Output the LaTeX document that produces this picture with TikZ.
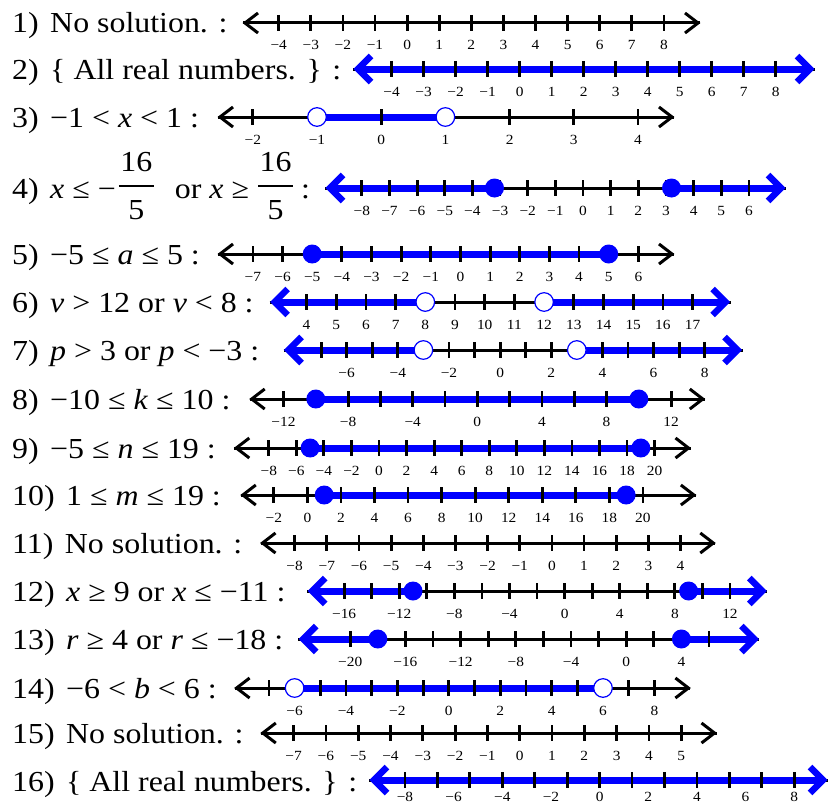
\documentclass[tikz,border=0pt]{standalone}
\usepackage{fontspec}
\setmainfont{Liberation Serif}[FakeStretch=1.1]
\newcommand\lab[1]{\ifnum#1<0 −\the\numexpr0-(#1)\relax\else#1\fi}
\newcommand\laboff{27}
\newcommand\bigfr[2]{\mbox{\rlap{\raisebox{27pt}{\makebox[35pt][c]{#1}}}\rlap{\raisebox{-21pt}{\makebox[35pt][c]{#2}}}\rule[11.2pt]{35pt}{1.7pt}}}
\newcommand\KHeads[3]{%
  \draw[blackhead] (#2+15,#1-10) -- (#2+2,#1) -- (#2+15,#1+10);
  \draw[blackhead] (#3-15,#1-10) -- (#3-2,#1) -- (#3-15,#1+10);}
\newcommand\BHeads[3]{%
  \draw[bluehead] (#2+18,#1-13) -- (#2+5,#1) -- (#2+18,#1+13);
  \draw[bluehead] (#3-18,#1-13) -- (#3-5,#1) -- (#3-18,#1+13);}
% #1 y, #2 x of zero, #3 unit, #4 left tip, #5 right tip, #6 ticks, #7 labels, #8 blue code, #9 heads
\newcommand\NLine[9]{%
  \draw[axisline] (#4,#1) -- (#5,#1);
  #8
  \foreach \v in {#6} \draw[tickmark] ({#2+\v*#3},#1-8) -- ({#2+\v*#3},#1+8);
  \foreach \v [count=\i] in {#7} \node[ticklabel] (t#1n\i) at ({#2+\v*#3},#1+\laboff) {\lab{\v}};
  #9{#1}{#4}{#5}}
\tikzset{
  axisline/.style={line width=3pt, black},
  tickmark/.style={line width=2.8pt, black},
  bluebar/.style={line width=7pt, blue},
  blackhead/.style={line width=3pt, black, line cap=butt, line join=miter},
  bluehead/.style={line width=6.5pt, blue, line cap=butt, line join=miter},
  filleddot/.style={fill=blue, draw=none},
  opendot/.style={fill=white, draw=blue, line width=1.2pt},
  ticklabel/.style={font=\fontsize{14}{14}\selectfont, anchor=base, inner sep=0pt},
  rowlabel/.style={font=\fontsize{29}{29}\selectfont, anchor=base west, inner sep=0pt}
}
\begin{document}
\begin{tikzpicture}[x=1pt,y=-1pt]
\useasboundingbox[fill=white] (0,0) rectangle (829,808);
% row labels
\node[rowlabel] (r1) at (12,33) {1)\hspace{0.12em} No solution. :};
\node[rowlabel] (r2) at (12,79) {2)\hspace{0.12em} \{ All real numbers. \} :};
\node[rowlabel] (r3) at (12,127) {3)\hspace{0.12em} −1 < \textit{x} < 1 :};
\node[rowlabel] (r4) at (12,198) {4)\hspace{0.12em} \textit{x} ≤ −\hspace{3pt}\bigfr{16}{5}\hspace{21pt}or \textit{x} ≥\hspace{9pt}\bigfr{16}{5}\hspace{8pt}:};
\node[rowlabel] (r5) at (12,264) {5)\hspace{0.12em} −5 ≤ \textit{a} ≤ 5 :};
\node[rowlabel] (r6) at (12,312) {6)\hspace{0.12em} \textit{v} > 12 or \textit{v} < 8 :};
\node[rowlabel] (r7) at (12,360) {7)\hspace{0.12em} \textit{p} > 3 or \textit{p} < −3 :};
\node[rowlabel] (r8) at (12,409) {8)\hspace{0.12em} −10 ≤ \textit{k} ≤ 10 :};
\node[rowlabel] (r9) at (12,458) {9)\hspace{0.12em} −5 ≤ \textit{n} ≤ 19 :};
\node[rowlabel] (r10) at (12,505) {10)\hspace{0.12em} 1 ≤ \textit{m} ≤ 19 :};
\node[rowlabel] (r11) at (12,553) {11)\hspace{0.12em} No solution. :};
\node[rowlabel] (r12) at (12,601) {12)\hspace{0.12em} \textit{x} ≥ 9 or \textit{x} ≤ −11 :};
\node[rowlabel] (r13) at (12,649) {13)\hspace{0.12em} \textit{r} ≥ 4 or \textit{r} ≤ −18 :};
\node[rowlabel] (r14) at (12,698) {14)\hspace{0.12em} −6 < \textit{b} < 6 :};
\node[rowlabel] (r15) at (12,743) {15)\hspace{0.12em} No solution. :};
\node[rowlabel] (r16) at (12,791) {16)\hspace{0.12em} \{ All real numbers. \} :};
% 1
\NLine{23}{407.1}{32.1}{243}{700}{-4,...,8}{-4,...,8}{}{\KHeads}
% 2
\NLine{69}{519.6}{32.0}{353}{815}{-4,...,8}{-4,...,8}{\draw[bluebar] (358,69) -- (810,69);}{\BHeads}
% 3
\NLine{117}{381.2}{64.2}{218}{674}{-2,...,4}{-2,...,4}{\draw[bluebar] (317,117) -- (445.4,117);}{\KHeads}
\draw[opendot] (317,117) circle (9.3);
\draw[opendot] (445.4,117) circle (9.3);
% 4
\NLine{188}{583}{27.65}{325}{786}{-8,...,6}{-8,...,6}{\draw[bluebar] (330,188) -- (494.5,188); \draw[bluebar] (671.5,188) -- (781,188);}{\BHeads}
\fill[filleddot] (494.5,188) circle (9.5);
\fill[filleddot] (671.5,188) circle (9.5);
% 5
\NLine{254}{460.45}{29.65}{218}{674}{-7,...,6}{-7,...,6}{\draw[bluebar] (312.2,254) -- (608.7,254);}{\KHeads}
\fill[filleddot] (312.2,254) circle (9.5);
\fill[filleddot] (608.7,254) circle (9.5);
% 6
\NLine{302}{187.7}{29.7}{269.6}{730.6}{4,...,17}{4,...,17}{\draw[bluebar] (274.6,302) -- (425.3,302); \draw[bluebar] (544.1,302) -- (725.6,302);}{\BHeads}
\draw[opendot] (425.3,302) circle (9.3);
\draw[opendot] (544.1,302) circle (9.3);
% 7
\NLine{350}{500.1}{25.57}{283.5}{742.5}{-7,...,8}{-6,-4,...,8}{\draw[bluebar] (288.5,350) -- (423.4,350); \draw[bluebar] (576.8,350) -- (737.5,350);}{\BHeads}
\draw[opendot] (423.4,350) circle (9.3);
\draw[opendot] (576.8,350) circle (9.3);
% 8
\NLine{399}{477.3}{16.15}{249.7}{704.8}{-12,-10,...,12}{-12,-8,...,12}{\draw[bluebar] (315.8,399) -- (638.8,399);}{\KHeads}
\fill[filleddot] (315.8,399) circle (9.5);
\fill[filleddot] (638.8,399) circle (9.5);
% 9
\NLine{448}{379}{13.78}{234.3}{690.5}{-8,-6,...,20}{-8,-6,...,20}{\draw[bluebar] (310.1,448) -- (640.8,448);}{\KHeads}
\fill[filleddot] (310.1,448) circle (9.5);
\fill[filleddot] (640.8,448) circle (9.5);
% 10
\NLine{495}{307.4}{16.775}{240.8}{695.9}{-2,0,...,20}{-2,0,...,20}{\draw[bluebar] (324.2,495) -- (626.1,495);}{\KHeads}
\fill[filleddot] (324.2,495) circle (9.5);
\fill[filleddot] (626.1,495) circle (9.5);
% 11
\NLine{543}{551.9}{32.16}{260.5}{715.3}{-8,...,4}{-8,...,4}{}{\KHeads}
% 12
\NLine{591}{564.6}{13.78}{307.2}{767.3}{-16,-14,...,12}{-16,-12,...,12}{\draw[bluebar] (312.2,591) -- (413,591); \draw[bluebar] (688.6,591) -- (762.3,591);}{\BHeads}
\fill[filleddot] (413,591) circle (9.5);
\fill[filleddot] (688.6,591) circle (9.5);
% 13
\NLine{639}{626.2}{13.8}{298.2}{759.4}{-20,-18,...,6}{-20,-16,...,4}{\draw[bluebar] (303.2,639) -- (377.8,639); \draw[bluebar] (681.4,639) -- (754.4,639);}{\BHeads}
\fill[filleddot] (377.8,639) circle (9.5);
\fill[filleddot] (681.4,639) circle (9.5);
% 14
\NLine{688}{448.8}{25.7}{234.6}{690.4}{-7,...,8}{-6,-4,...,8}{\draw[bluebar] (294.6,688) -- (603,688);}{\KHeads}
\draw[opendot] (294.6,688) circle (9.3);
\draw[opendot] (603,688) circle (9.3);
% 15
\NLine{733}{519.7}{32.3}{260.8}{716.5}{-7,...,5}{-7,...,5}{}{\KHeads}
% 16
\renewcommand\laboff{21}
\NLine{780}{599.6}{24.33}{369}{828}{-8,-6.6667,-5.3333,-4,-2.6667,-1.3333,0,1.3333,2.6667,4,5.3333,6.6667,8}{-8,-6,...,8}{\draw[bluebar] (374,780) -- (823,780);}{\BHeads}
\end{tikzpicture}
\end{document}
